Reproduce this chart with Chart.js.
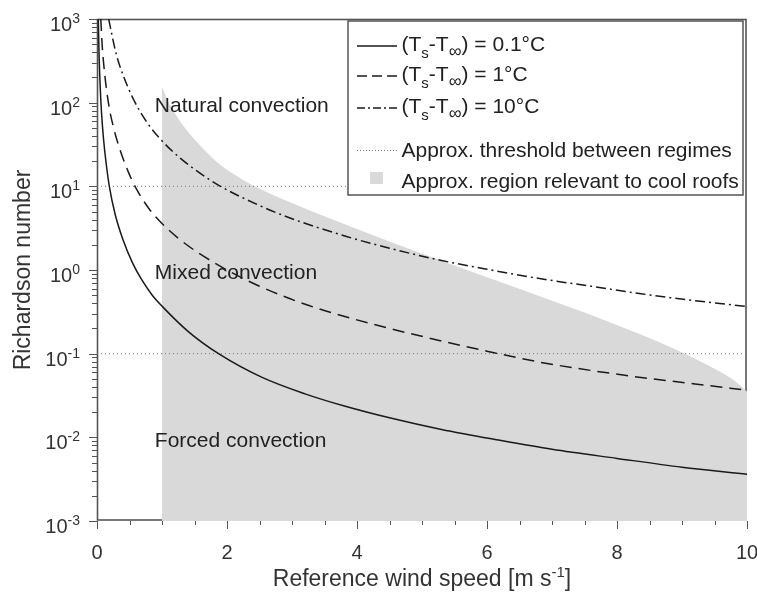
<!DOCTYPE html>
<html>
<head>
<meta charset="utf-8">
<script src="https://cdn.jsdelivr.net/npm/chart.js@4.4.1/dist/chart.umd.min.js"></script>
<style>
  html, body { margin: 0; padding: 0; background: #fff; }
  #chart { display: block; }
</style>
</head>
<body>
<canvas id="chart" width="757" height="601"></canvas>
<script>
// Richardson number vs. reference wind speed for three surface-air temperature differences
const speed01 = [0.02, 0.03, 0.05, 0.07, 0.1, 0.14, 0.19, 0.28, 0.4, 0.55, 0.69, 0.85, 1.0, 1.4, 1.87, 2.54, 3.2, 3.82, 4.5, 5.3, 6.2, 7.0, 8.0, 9.0, 10];
const ri01 = [1000, 420, 150, 75, 37, 19, 10, 4.6, 2.3, 1.2, 0.76, 0.5, 0.37, 0.185, 0.10, 0.052, 0.0331, 0.0235, 0.0171, 0.0124, 0.0092, 0.0072, 0.0056, 0.0044, 0.00363];

const speed1 = [0.058, 0.08, 0.12, 0.175, 0.25, 0.35, 0.48, 0.585, 0.8, 1.0, 1.25, 1.5, 2.0, 2.5, 3.26, 4.2, 5.28, 6.0, 6.83, 7.6, 8.37, 9.2, 10];
const ri1 = [1000, 480, 215, 100, 52, 28, 15, 10, 5.4, 3.6, 2.4, 1.72, 1.0, 0.64, 0.376, 0.23, 0.143, 0.107, 0.0787, 0.063, 0.052, 0.0435, 0.0365];

const speed10 = [0.18, 0.22, 0.3, 0.4, 0.55, 0.77, 1.0, 1.28, 1.59, 1.9, 2.5, 3.0, 3.85, 4.5, 5.3, 6.0, 6.83, 7.6, 8.37, 9.2, 10];
const ri10 = [1000, 700, 370, 215, 114, 58, 35, 21.7, 14.3, 10, 5.9, 4.1, 2.5, 1.82, 1.3, 1.02, 0.785, 0.64, 0.52, 0.43, 0.366];

// upper edge of the cool-roof band (filled down to the axis)
const roofSpeed = [1, 1.08, 1.17, 1.35, 1.6, 1.9, 2.2, 2.4, 3.0, 3.8, 4.5, 5.3, 6.0, 6.8, 7.5, 8.2, 8.8, 9.2, 9.6, 9.8, 10];
const roofRi = [155, 110, 81, 50, 30, 18, 12.6, 10.2, 6.3, 3.55, 2.19, 1.29, 0.82, 0.49, 0.31, 0.19, 0.122, 0.087, 0.060, 0.048, 0.035];

// regime thresholds
const thresholdSpeed = [0, 10];
const naturalRi = 10;
const forcedRi = 0.1;

const deltaLabels = ['0.1°C', '1°C', '10°C'];
const regimeNames = ['Natural convection', 'Mixed convection', 'Forced convection'];
const regimeRi = [78, 0.79, 0.0077];
const regimeSpeed = 0.89;

const decades = [3, 2, 1, 0, -1, -2, -3];
const speedTicks = [0, 2, 4, 6, 8, 10];

const FONT = '"Liberation Sans", Arial, sans-serif';
const INK = '#1a1a1a';
const AXIS = '#555';
const TEXT = '#333';
const ROOF = '#d9d9d9';

const pairs = (xs, ys) => xs.map((x, i) => ({x, y: ys[i]}));

function drawRuns(ctx, x, y, runs) {
  for (const [text, size, dy] of runs) {
    ctx.font = size + 'px ' + FONT;
    ctx.fillText(text, x, y + dy);
    x += ctx.measureText(text).width;
  }
  return x;
}

function runsWidth(ctx, runs) {
  let w = 0;
  for (const [text, size] of runs) {
    ctx.font = size + 'px ' + FONT;
    w += ctx.measureText(text).width;
  }
  return w;
}

const decorations = {
  id: 'decorations',
  beforeDatasetsDraw(chart) {
    const {ctx, chartArea: a} = chart;
    ctx.save();
    ctx.strokeStyle = AXIS;
    ctx.lineWidth = 1.6;
    ctx.strokeRect(a.left + 0.5, a.top + 0.5, a.right - a.left - 1.5, a.bottom - a.top - 1.5);
    ctx.restore();
  },
  afterDraw(chart) {
    const {ctx, chartArea: a, scales: {x, y}} = chart;
    ctx.save();
    ctx.strokeStyle = AXIS;
    ctx.lineWidth = 1;

    // y ticks: decades plus 2..9 minors
    ctx.beginPath();
    for (let d = -3; d <= 3; d++) {
      const py = Math.round(y.getPixelForValue(Math.pow(10, d))) + 0.5;
      ctx.moveTo(a.left - 8, py);
      ctx.lineTo(a.left, py);
      if (d === 3) continue;
      for (let m = 2; m <= 9; m++) {
        const my = Math.round(y.getPixelForValue(m * Math.pow(10, d))) + 0.5;
        ctx.moveTo(a.left - 5, my);
        ctx.lineTo(a.left, my);
      }
    }
    // x ticks every 0.5
    for (let v = 0; v <= 10; v += 0.5) {
      const px = Math.round(x.getPixelForValue(v)) + 0.5;
      const len = v % 2 === 0 ? 8 : 4;
      ctx.moveTo(px, a.bottom);
      ctx.lineTo(px, a.bottom + len);
    }
    ctx.stroke();

    // y tick labels 10^n
    ctx.fillStyle = TEXT;
    ctx.textBaseline = 'alphabetic';
    ctx.textAlign = 'left';
    for (const d of decades) {
      const py = y.getPixelForValue(Math.pow(10, d));
      ctx.font = '20px ' + FONT;
      const wb = ctx.measureText('10').width;
      ctx.font = '14px ' + FONT;
      const we = ctx.measureText(String(d)).width;
      const x0 = 80 - wb - we;
      ctx.font = '20px ' + FONT;
      ctx.fillText('10', x0, py + 12);
      ctx.font = '14px ' + FONT;
      ctx.fillText(String(d), x0 + wb, py + 4);
    }

    // x tick labels
    ctx.textAlign = 'center';
    ctx.font = '20px ' + FONT;
    for (const v of speedTicks) {
      ctx.fillText(String(v), x.getPixelForValue(v), a.bottom + 38);
    }

    // axis titles
    ctx.textAlign = 'left';
    const xTitle = [['Reference wind speed [m s', 23, 0], ['-1', 15, -9], [']', 23, 0]];
    const tw = runsWidth(ctx, xTitle);
    drawRuns(ctx, (a.left + a.right) / 2 - tw / 2, 586, xTitle);

    ctx.save();
    ctx.translate(30, (a.top + a.bottom) / 2);
    ctx.rotate(-Math.PI / 2);
    ctx.textAlign = 'center';
    ctx.font = '23px ' + FONT;
    ctx.fillText('Richardson number', 0, 0);
    ctx.restore();

    // regime names
    ctx.fillStyle = '#222';
    ctx.font = '21px ' + FONT;
    ctx.textAlign = 'left';
    regimeNames.forEach((name, i) => {
      ctx.fillText(name, x.getPixelForValue(regimeSpeed), y.getPixelForValue(regimeRi[i]));
    });

    // legend
    const box = {left: 348, top: 21, right: 743, bottom: 195};
    ctx.fillStyle = '#fff';
    ctx.fillRect(box.left, box.top, box.right - box.left, box.bottom - box.top);
    ctx.strokeStyle = AXIS;
    ctx.lineWidth = 1.5;
    ctx.strokeRect(box.left, box.top, box.right - box.left, box.bottom - box.top);

    const s0 = box.left + 9, s1 = box.left + 49, tx = box.left + 53.5;
    const dashes = [[], [10, 5], [8, 3, 2, 3]];
    const rowBase = [51, 81, 113];
    ctx.strokeStyle = INK;
    ctx.lineWidth = 1.4;
    rowBase.forEach((b, i) => {
      ctx.setLineDash(dashes[i]);
      ctx.beginPath();
      ctx.moveTo(s0, b - 5);
      ctx.lineTo(s1, b - 5);
      ctx.stroke();
      ctx.fillStyle = '#222';
      drawRuns(ctx, tx, b, [['(T', 21, 0], ['s', 15, 7], ['-T', 21, 0], ['\u221E', 18, 6], [') = ' + deltaLabels[i], 21, 0]]);
    });
    ctx.strokeStyle = '#777';
    ctx.lineWidth = 1;
    ctx.setLineDash([1, 2]);
    ctx.beginPath();
    ctx.moveTo(s0, 150.5);
    ctx.lineTo(s1, 150.5);
    ctx.stroke();
    ctx.setLineDash([]);
    ctx.fillStyle = '#222';
    ctx.font = '21px ' + FONT;
    ctx.fillText('Approx. threshold between regimes', tx, 157);
    ctx.fillStyle = ROOF;
    ctx.fillRect(370, 172, 13, 12);
    ctx.fillStyle = '#222';
    ctx.fillText('Approx. region relevant to cool roofs', tx, 188);
    ctx.restore();
  }
};

const curve = (data, dash) => ({
  data,
  borderColor: INK,
  borderWidth: 1.5,
  borderDash: dash,
  cubicInterpolationMode: 'monotone',
  fill: false,
  pointRadius: 0
});

const threshold = level => ({
  data: pairs(thresholdSpeed, [level, level]),
  borderColor: '#777',
  borderWidth: 1,
  borderDash: [1, 3],
  fill: false,
  pointRadius: 0
});

new Chart(document.getElementById('chart').getContext('2d'), {
  type: 'line',
  data: {
    datasets: [
      curve(pairs(speed01, ri01), []),
      curve(pairs(speed1, ri1), [12, 7]),
      curve(pairs(speed10, ri10), [10, 4, 2, 4]),
      threshold(naturalRi),
      threshold(forcedRi),
      {
        data: pairs(roofSpeed, roofRi),
        borderColor: 'rgba(0,0,0,0)',
        borderWidth: 0,
        backgroundColor: ROOF,
        fill: 'start',
        cubicInterpolationMode: 'monotone',
        pointRadius: 0
      }
    ]
  },
  options: {
    responsive: false,
    animation: false,
    devicePixelRatio: 1,
    layout: {padding: {top: 19, right: 10, left: 0, bottom: 0}},
    plugins: {legend: {display: false}, tooltip: {enabled: false}},
    scales: {
      x: {
        type: 'linear', min: 0, max: 10,
        grid: {display: false}, border: {display: false}, ticks: {display: false},
        afterFit: s => { s.height = 80; }
      },
      y: {
        type: 'logarithmic', min: 1e-3, max: 1e3,
        grid: {display: false}, border: {display: false}, ticks: {display: false},
        afterFit: s => { s.width = 97; }
      }
    }
  },
  plugins: [decorations]
});
</script>
</body>
</html>
